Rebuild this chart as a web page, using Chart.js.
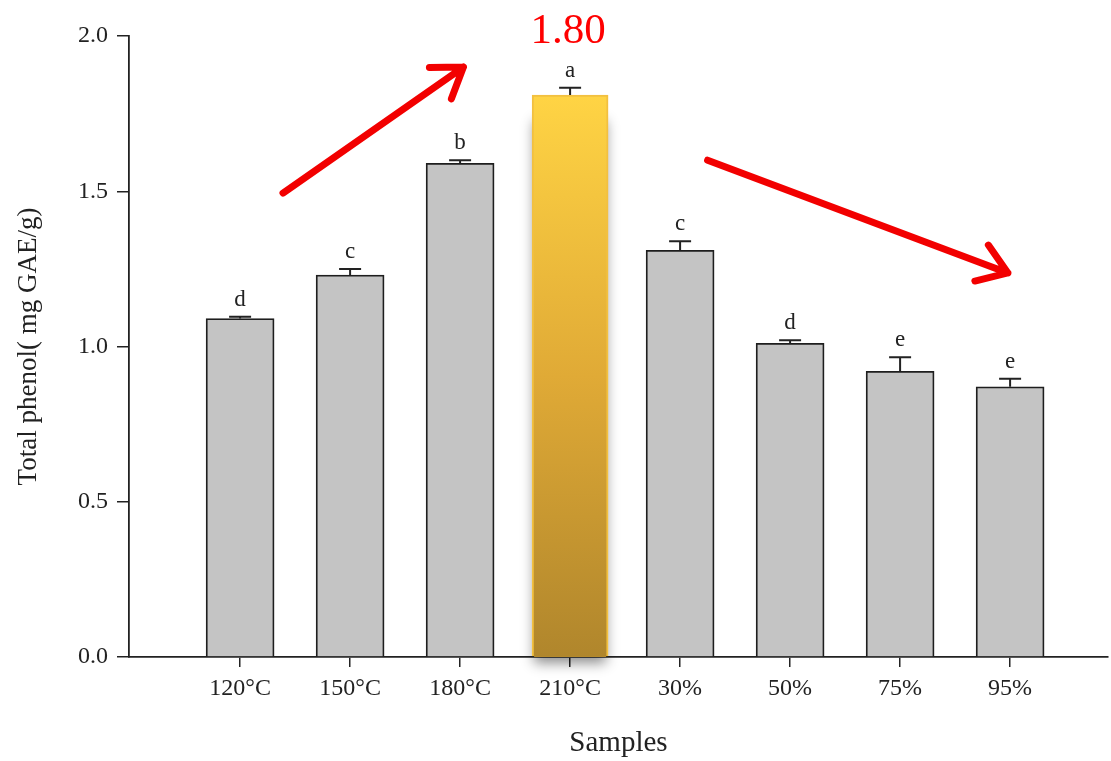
<!DOCTYPE html>
<html>
<head>
<meta charset="utf-8">
<script src="https://cdn.jsdelivr.net/npm/chart.js@4"></script>
<style>
  body { margin: 0; background: #fff; }
</style>
</head>
<body>
<canvas id="phenolChart" width="1111" height="761"></canvas>
<script>
const sampleLabels = ['120°C', '150°C', '180°C', '210°C', '30%', '50%', '75%', '95%'];
const phenolValues = [1.09, 1.23, 1.59, 1.81, 1.31, 1.01, 0.92, 0.87];
const errorValues = [0.006, 0.02, 0.01, 0.023, 0.029, 0.01, 0.045, 0.026];
const groupLetters = ['d', 'c', 'b', 'a', 'c', 'd', 'e', 'e'];
const highlightIndex = 3; // the 210°C bar
const highlightLabel = '1.80';

const serif = '"Liberation Serif", "Times New Roman", serif';
const inkColor = '#222';

// red trend arrows, in data units (x = category index, y = phenol)
const arrows = [
  { from: [0.39, 1.494], to: [2.03, 1.90] },
  { from: [4.25, 1.60], to: [6.98, 1.237] },
];

const grayData = phenolValues.map((v, i) => ({ x: i, y: i === highlightIndex ? null : v }));
const goldData = phenolValues.map((v, i) => ({ x: i, y: i === highlightIndex ? v : null }));

// error bars + significance letters + highlight label + arrows
const extrasPlugin = {
  id: 'extras',
  beforeDatasetsDraw(chart) {
    const { ctx, scales } = chart;
    const x = scales.x.getPixelForValue(highlightIndex);
    const yTop = scales.y.getPixelForValue(phenolValues[highlightIndex]);
    const yBottom = scales.y.getPixelForValue(0);
    // soft shadow under the highlighted bar
    ctx.save();
    ctx.shadowColor = 'rgba(0,0,0,0.45)';
    ctx.shadowBlur = 12;
    ctx.shadowOffsetY = 6;
    ctx.fillStyle = '#b58a2c';
    ctx.fillRect(x - 36, yTop + 20, 72, yBottom - yTop - 20);
    ctx.restore();
  },
  afterDatasetsDraw(chart) {
    const { ctx, scales } = chart;
    const xs = scales.x, ys = scales.y;
    ctx.save();
    phenolValues.forEach((v, i) => {
      const x = xs.getPixelForValue(i);
      const yBar = ys.getPixelForValue(v);
      const yCap = ys.getPixelForValue(v + errorValues[i]);
      ctx.strokeStyle = inkColor;
      ctx.lineWidth = 2;
      ctx.beginPath();
      ctx.moveTo(x, yBar);
      ctx.lineTo(x, yCap);
      ctx.moveTo(x - 11, yCap);
      ctx.lineTo(x + 11, yCap);
      ctx.stroke();

      ctx.fillStyle = inkColor;
      ctx.font = '23px ' + serif;
      ctx.textAlign = 'center';
      ctx.textBaseline = 'alphabetic';
      ctx.fillText(groupLetters[i], x, yCap - 11);
    });

    // big red value above the highlighted bar
    ctx.fillStyle = '#f00';
    ctx.font = '43px ' + serif;
    ctx.textAlign = 'center';
    ctx.fillText(highlightLabel, xs.getPixelForValue(highlightIndex) - 2, ys.getPixelForValue(1.977));

    // arrows
    ctx.strokeStyle = '#f20000';
    ctx.lineWidth = 7;
    ctx.lineCap = 'round';
    ctx.lineJoin = 'round';
    arrows.forEach(a => {
      const x1 = xs.getPixelForValue(a.from[0]), y1 = ys.getPixelForValue(a.from[1]);
      const x2 = xs.getPixelForValue(a.to[0]), y2 = ys.getPixelForValue(a.to[1]);
      const ang = Math.atan2(y2 - y1, x2 - x1);
      const head = 34, spread = 0.6;
      ctx.beginPath();
      ctx.moveTo(x1, y1);
      ctx.lineTo(x2, y2);
      ctx.moveTo(x2 - head * Math.cos(ang - spread), y2 - head * Math.sin(ang - spread));
      ctx.lineTo(x2, y2);
      ctx.lineTo(x2 - head * Math.cos(ang + spread), y2 - head * Math.sin(ang + spread));
      ctx.stroke();
    });
    ctx.restore();
  }
};

const ctx = document.getElementById('phenolChart');
new Chart(ctx, {
  type: 'bar',
  data: {
    datasets: [
      {
        label: 'Total phenol',
        data: grayData,
        backgroundColor: '#c4c4c4',
        borderColor: '#1e1e1e',
        borderWidth: 1.8,
        barThickness: 68,
        grouped: false,
      },
      {
        label: '210°C',
        data: goldData,
        backgroundColor: context => {
          const { chart } = context;
          if (!chart.chartArea) return '#e8b53a';
          const y = chart.scales.y;
          const g = chart.ctx.createLinearGradient(0, y.getPixelForValue(phenolValues[highlightIndex]), 0, y.getPixelForValue(0));
          g.addColorStop(0, '#ffd444');
          g.addColorStop(0.5, '#e0aa36');
          g.addColorStop(1, '#b0862c');
          return g;
        },
        borderColor: '#f2c040',
        borderWidth: 2,
        barThickness: 76,
        grouped: false,
      },
    ],
  },
  options: {
    responsive: false,
    animation: false,
    layout: { padding: { top: 36, right: 3, left: 0, bottom: 0 } },
    plugins: {
      legend: { display: false },
      tooltip: { enabled: false },
    },
    scales: {
      x: {
        type: 'linear',
        offset: false,
        min: -1.01,
        max: 7.89,
        afterBuildTicks: scale => {
          scale.ticks = sampleLabels.map((_, i) => ({ value: i }));
        },
        afterFit: scale => { scale.height = 104; },
        ticks: {
          callback: v => sampleLabels[v],
          color: inkColor,
          font: { family: serif, size: 24 },
          padding: 7,
          maxRotation: 0,
          autoSkip: false,
        },
        grid: { offset: false, drawOnChartArea: false, tickLength: 10, color: inkColor, lineWidth: 1.5 },
        border: { color: inkColor, width: 1.8 },
        title: {
          display: true,
          text: 'Samples',
          color: inkColor,
          font: { family: serif, size: 29 },
          padding: { top: 0, bottom: 0 },
        },
      },
      y: {
        min: 0,
        max: 2,
        afterFit: scale => { scale.width = 129; },
        ticks: {
          stepSize: 0.5,
          callback: v => v.toFixed(1),
          color: inkColor,
          font: { family: serif, size: 24 },
          padding: 9,
        },
        grid: { drawOnChartArea: false, tickLength: 12, color: inkColor, lineWidth: 1.5 },
        border: { color: inkColor, width: 1.8 },
        title: {
          display: true,
          text: 'Total phenol( mg GAE/g)',
          color: inkColor,
          font: { family: serif, size: 27 },
          padding: { top: 13, bottom: 0 },
        },
      },
    },
  },
  plugins: [extrasPlugin],
});
</script>
</body>
</html>
